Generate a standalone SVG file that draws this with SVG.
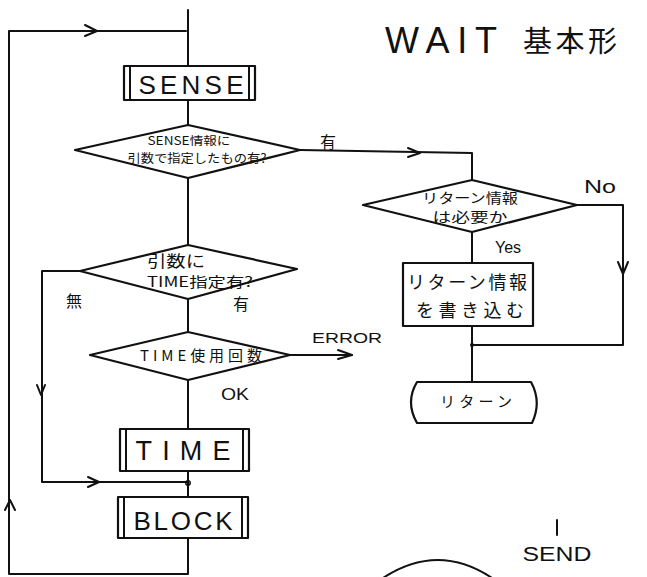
<svg xmlns="http://www.w3.org/2000/svg" width="647" height="577" viewBox="0 0 647 577">
<style>
.ln{fill:none;stroke:#111;stroke-width:2;stroke-linecap:round;stroke-linejoin:round}
.sh{fill:#fff;stroke:#111;stroke-width:2.2;stroke-linejoin:round}
.t{font-family:"Liberation Sans","Noto Sans CJK JP",sans-serif;fill:#111;text-anchor:middle}
.j{font-family:"Noto Sans CJK JP","Liberation Sans",sans-serif;fill:#111;text-anchor:middle}
</style>
<rect width="647" height="577" fill="#fff"/>
<g id="connectors">
  <path class="ln" d="M188,10 V66"/>
  <path class="ln" d="M188,100 V125"/>
  <path class="ln" d="M188,178 V245"/>
  <path class="ln" d="M188,299 V332"/>
  <path class="ln" d="M188,380 V429"/>
  <path class="ln" d="M188,471 V497"/>
  <path class="ln" d="M188,538 V574 H9 V31 H186"/>
  <polyline class="ln" points="85,25 97,31 85,36"/>
  <polyline class="ln" points="5,510 10,500 15,510"/>
  <path class="ln" d="M300,150 L472,153 V180"/>
  <polyline class="ln" points="408,148 420,153 408,157"/>
  <path class="ln" d="M577,205 H623 V345 H472"/>
  <polyline class="ln" points="618,262 623,274 628,262"/>
  <path class="ln" d="M472,232 V263"/>
  <path class="ln" d="M472,326 V382"/>
  <circle cx="472" cy="345" r="2" fill="#111"/>
  <path class="ln" d="M80,271 H42 V482 H188"/>
  <polyline class="ln" points="37,385 41,395 45,385"/>
  <polyline class="ln" points="88,477 99,482 88,487"/>
  <circle cx="188" cy="483" r="2.2" fill="none" stroke="#111" stroke-width="1.5"/>
  <path class="ln" d="M290,355 H352"/>
  <polyline class="ln" points="338,350 352,355 338,359"/>
</g>
<g id="title">
  <text class="t" x="441" y="53" font-size="36" textLength="112" lengthAdjust="spacing">WAIT</text>
  <text class="j" x="570" y="52" font-size="29" textLength="94" lengthAdjust="spacing">基本形</text>
</g>
<g id="sense">
  <rect class="sh" x="124" y="66" width="131" height="34"/>
  <path class="ln" d="M130,66 V100 M249,66 V100"/>
  <text class="t" x="191" y="94" font-size="26" textLength="105" lengthAdjust="spacing">SENSE</text>
</g>
<g id="d-sense">
  <polygon class="sh" points="75,150 188,125 300,150 188,178"/>
  <text class="j" x="189" y="145" font-size="11.5" textLength="83" lengthAdjust="spacingAndGlyphs">SENSE情報に</text>
  <text class="j" x="197" y="163" font-size="12.5" textLength="139" lengthAdjust="spacingAndGlyphs">引数で指定したもの有?</text>
  <text class="j" x="328" y="148" font-size="16">有</text>
</g>
<g id="d-return">
  <polygon class="sh" points="363,205 472,180 577,205 472,232"/>
  <text class="j" x="470" y="203" font-size="13.5" textLength="96" lengthAdjust="spacingAndGlyphs">リターン情報</text>
  <text class="j" x="470" y="222" font-size="13.5" textLength="75" lengthAdjust="spacingAndGlyphs">は必要か</text>
  <text class="t" x="600" y="193" font-size="18" textLength="32" lengthAdjust="spacingAndGlyphs">No</text>
  <text class="t" x="508" y="253" font-size="16">Yes</text>
</g>
<g id="write">
  <rect class="sh" x="403" y="263" width="130" height="63"/>
  <text class="j" x="467" y="289" font-size="18" textLength="120" lengthAdjust="spacing">リターン情報</text>
  <text class="j" x="470" y="317" font-size="18" textLength="108" lengthAdjust="spacing">を書き込む</text>
</g>
<g id="ret">
  <path class="sh" d="M417,382 H531 Q542,402 532,423 H417 Q405,402 417,382 Z"/>
  <text class="j" x="476" y="407" font-size="15" textLength="72" lengthAdjust="spacing">リターン</text>
</g>
<g id="d-time">
  <polygon class="sh" points="80,271 188,245 297,269 188,299"/>
  <text class="j" x="176" y="267" font-size="16" textLength="58" lengthAdjust="spacingAndGlyphs">引数に</text>
  <text class="j" x="200" y="287" font-size="14" textLength="106" lengthAdjust="spacingAndGlyphs">TIME指定有?</text>
  <text class="j" x="74" y="307" font-size="16">無</text>
  <text class="j" x="241" y="310" font-size="16">有</text>
</g>
<g id="d-count">
  <polygon class="sh" points="90,355 188,332 290,355 188,380"/>
  <text class="j" x="201" y="361" font-size="15" textLength="122" lengthAdjust="spacing">TIME使用回数</text>
  <text class="t" x="347" y="343" font-size="15" textLength="70" lengthAdjust="spacingAndGlyphs">ERROR</text>
  <text class="t" x="235" y="400" font-size="17" textLength="28" lengthAdjust="spacingAndGlyphs">OK</text>
</g>
<g id="time">
  <rect class="sh" x="120" y="429" width="129" height="42"/>
  <path class="ln" d="M126,429 V471 M243,429 V471"/>
  <text class="t" x="183" y="460" font-size="27" textLength="95" lengthAdjust="spacing">TIME</text>
</g>
<g id="block">
  <rect class="sh" x="118" y="497" width="130" height="41"/>
  <path class="ln" d="M124,497 V538 M242,497 V538"/>
  <text class="t" x="183" y="530" font-size="26" textLength="99" lengthAdjust="spacing">BLOCK</text>
</g>
<g id="send">
  <path class="ln" d="M557,520 V535"/>
  <text class="t" x="557" y="561" font-size="20" textLength="69" lengthAdjust="spacingAndGlyphs">SEND</text>
  <path class="ln" d="M380,580 Q438,540 495,580"/>
</g>
</svg>
